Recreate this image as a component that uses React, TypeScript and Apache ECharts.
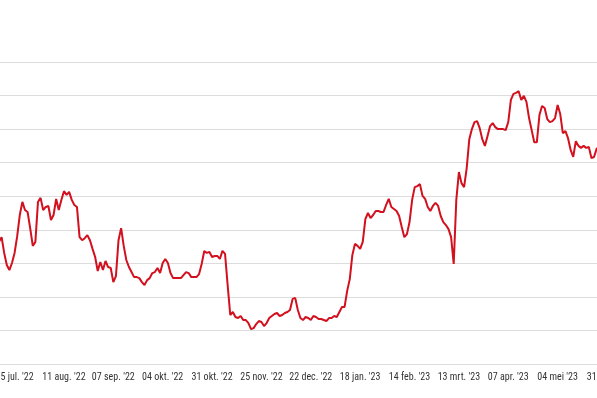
import React, { useEffect, useRef } from "react";
import * as echarts from "echarts";

// first trading day in the series (weekdays only)
const startDate = "2022-07-07";
const categoryCount = 240;
const labelFirstIndex = 6;
const labelEvery = 19;
const monthNames = ["jan.", "feb.", "mrt.", "apr.", "mei", "jun.", "jul.", "aug.", "sep.", "okt.", "nov.", "dec."];

const values = [
  36.4, 37.8, 33.1, 29.5, 28.0, 30.1, 33.1, 38.1, 44.4, 48.3,
  45.9, 45.3, 40.5, 35.2, 36.4, 48.3, 49.5, 45.9, 46.8, 47.1,
  42.9, 44.4, 49.2, 45.9, 48.9, 51.5, 50.4, 51.3, 48.9, 47.4,
  46.8, 37.8, 36.9, 37.5, 38.4, 36.9, 34.3, 31.9, 27.7, 30.4,
  28.0, 30.7, 28.9, 28.6, 24.4, 26.2, 36.9, 40.5, 35.2, 31.0,
  28.9, 27.4, 25.9, 25.9, 25.6, 24.4, 23.5, 25.0, 25.6, 27.1,
  27.4, 28.6, 27.1, 30.1, 31.3, 30.1, 27.1, 25.6, 25.6, 25.6,
  25.6, 26.5, 27.4, 27.1, 25.9, 25.9, 25.9, 26.8, 29.8, 33.7,
  33.1, 33.4, 31.9, 32.2, 32.2, 31.3, 33.7, 32.8, 23.5, 14.6,
  15.5, 14.0, 13.7, 14.3, 13.1, 13.1, 12.2, 10.4, 10.7, 11.9,
  12.8, 12.5, 11.3, 12.2, 13.7, 14.3, 14.9, 15.2, 14.3, 14.6,
  15.2, 15.5, 16.1, 19.4, 19.7, 16.1, 13.7, 13.1, 14.0, 13.7,
  13.1, 14.3, 14.0, 13.4, 13.4, 13.1, 12.8, 13.7, 13.7, 14.3,
  14.0, 15.5, 17.0, 17.0, 21.8, 25.3, 32.5, 35.8, 35.2, 34.3,
  36.4, 43.2, 45.0, 43.5, 44.4, 45.6, 45.6, 45.3, 45.3, 47.4,
  49.2, 46.8, 46.2, 45.6, 44.1, 40.8, 37.8, 38.7, 42.3, 48.9,
  52.7, 53.0, 53.6, 50.1, 49.2, 46.8, 45.6, 47.1, 48.0, 47.1,
  44.1, 42.3, 41.4, 40.2, 37.8, 29.8, 48.9, 57.2, 53.9, 52.7,
  58.4, 67.0, 70.0, 72.1, 72.4, 70.3, 67.0, 65.0, 67.9, 70.9,
  71.8, 70.6, 70.0, 70.0, 70.0, 69.7, 72.1, 78.7, 80.5, 80.8,
  81.3, 78.7, 79.9, 78.1, 73.3, 69.7, 66.1, 66.1, 74.2, 76.9,
  76.3, 73.0, 72.1, 72.4, 73.3, 77.2, 74.5, 68.8, 69.4, 67.3,
  63.8, 61.7, 66.4, 65.0, 64.4, 65.0, 64.4, 64.7, 61.4, 61.7,
  64.1, 64.7, 65.0,
];

function weekdayCategories(start: string, count: number): string[] {
  const out: string[] = [];
  const d = new Date(start + "T12:00:00Z");
  while (out.length < count) {
    const wd = d.getUTCDay();
    if (wd !== 0 && wd !== 6) {
      const dd = String(d.getUTCDate()).padStart(2, "0");
      const yy = String(d.getUTCFullYear()).slice(2);
      out.push(`${dd} ${monthNames[d.getUTCMonth()]} '${yy}`);
    }
    d.setUTCDate(d.getUTCDate() + 1);
  }
  return out;
}

export default function App() {
  const ref = useRef<HTMLDivElement>(null);
  useEffect(() => {
    if (!ref.current) return;
    const chart = echarts.init(ref.current, undefined, { renderer: "svg" });
    const categories = weekdayCategories(startDate, categoryCount);
    chart.setOption({
      animation: false,
      grid: { left: -1, right: -23, top: 62, bottom: 34, outerBoundsMode: "none", containLabel: false },
      xAxis: {
        type: "category",
        data: categories,
        boundaryGap: false,
        axisLine: { show: false },
        axisTick: { show: false },
        axisLabel: {
          interval: (i: number) => i >= labelFirstIndex && (i - labelFirstIndex) % labelEvery === 0,
          showMinLabel: true,
          showMaxLabel: true,
          hideOverlap: false,
          color: "#333333",
          fontSize: 10,
          margin: 7,
          fontFamily: "'Roboto Condensed', sans-serif",
        },
        splitLine: { show: false },
      },
      yAxis: {
        type: "value",
        min: 0,
        max: 90,
        interval: 10,
        axisLabel: { show: false },
        axisLine: { show: false },
        axisTick: { show: false },
        splitLine: { show: true, lineStyle: { color: "#dcdcdc", width: 1 } },
      },
      series: [
        {
          type: "line",
          data: values,
          symbol: "none",
          lineStyle: { color: "#d2101e", width: 2 },
        },
      ],
    });
    return () => chart.dispose();
  }, []);
  return <div ref={ref} style={{ position: "fixed", left: 0, top: 0, width: 597, height: 398 }} />;
}
